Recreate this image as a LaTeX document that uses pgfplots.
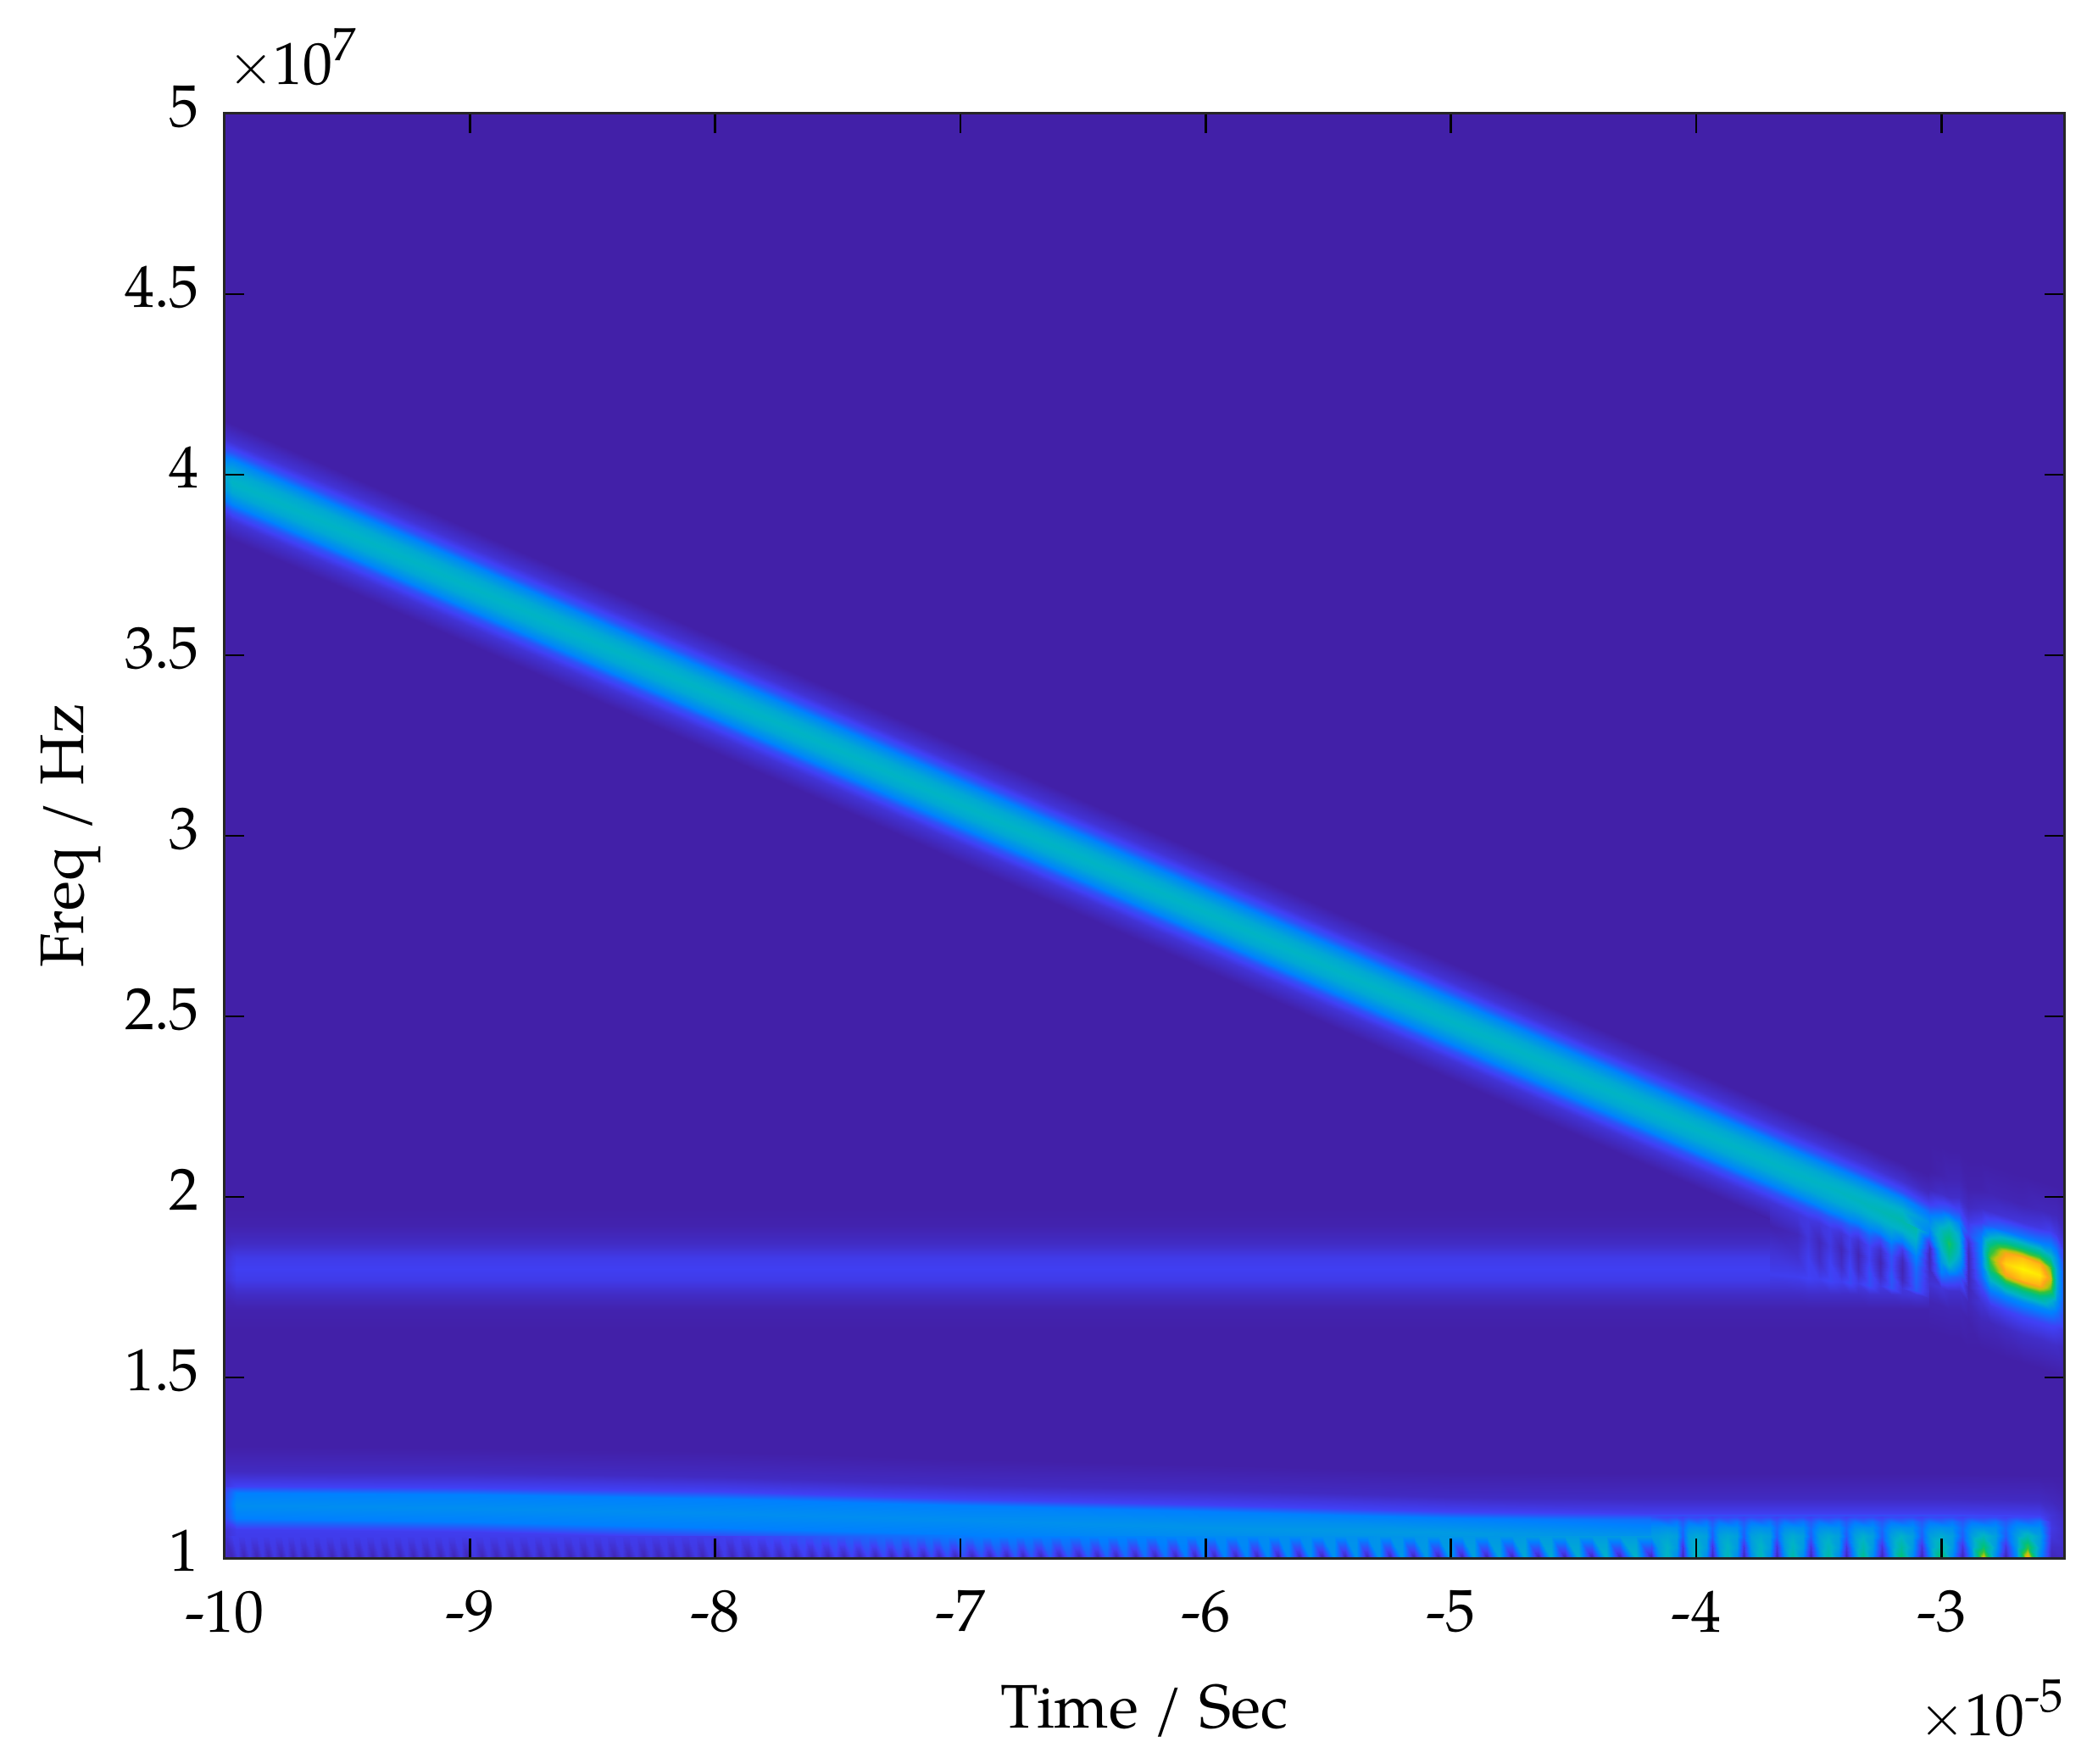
\documentclass[border=0pt]{standalone}
\usepackage{pgfplots}
\usepackage{fontspec}
\setmainfont{TeX Gyre Pagella}
\pgfplotsset{compat=1.18}
\definecolor{bgv}{RGB}{66,32,168}
\newcommand{\lab}{\fontsize{21}{24}\selectfont}
\newcommand{\labb}{\fontsize{21.8}{25}\selectfont}
\newcommand{\expo}[1]{\raisebox{8.5pt}{\fontsize{16.5}{18}\selectfont #1}}
\pgfplotsset{
 heat/.style={surf,shader=interp,point meta=explicit,mesh/ordering=y varies,forget plot},
 colormap={spec}{rgb255(0cm)=(66,32,168); rgb255(12cm)=(64,64,245); rgb255(25cm)=(0,128,255); rgb255(40cm)=(0,178,200); rgb255(55cm)=(0,192,128); rgb255(66cm)=(50,195,60); rgb255(76cm)=(190,195,10); rgb255(85cm)=(255,165,25); rgb255(100cm)=(255,242,0)}
}
\begin{document}
\begin{tikzpicture}
\path[use as bounding box] (-79.5pt,-72.9pt) rectangle (663pt,551.4pt);
\begin{axis}[
 scale only axis,width=651pt,height=511.2pt,at={(0,0)},
 xmin=-10,xmax=-2.5,ymin=1,ymax=5,
 xtick={-10,-9,-8,-7,-6,-5,-4,-3},
 xticklabels={-10,-9,-8,-7,-6,-5,-4,-3},
 ytick={1,1.5,2,2.5,3,3.5,4,4.5,5},
 yticklabels={1,1.5,2,2.5,3,3.5,4,4.5,5},
 tick align=inside,major tick length=7pt,
 tick style={black,line width=0.8pt},
 axis line style={line width=0.9pt,black!85},
 axis on top,
 axis background/.style={fill=bgv},
 point meta min=0,point meta max=1,
 tick label style={font=\lab},
 xticklabel style={yshift=-8pt},
 yticklabel style={xshift=-5.5pt,yshift=2.5pt},
 xlabel={Time / Sec},ylabel={Freq / Hz},
 label style={font=\labb},
 xlabel style={at={(axis description cs:0.5,0)},anchor=center,yshift=-54pt},
 ylabel style={at={(axis description cs:0,0.5)},anchor=center,yshift=54.5pt},
]
% line at 1.8
\addplot[heat,mesh/rows=9] table[meta=c,row sep=\\]{t f c\\
-10 1.63 0\\ -10 1.69 .01\\ -10 1.73 .03\\ -10 1.77 .06\\ -10 1.80 .07\\ -10 1.83 .06\\ -10 1.87 .03\\ -10 1.92 .01\\ -10 1.97 0\\
-9.95 1.63 0\\ -9.95 1.69 .01\\ -9.95 1.73 .045\\ -9.95 1.77 .10\\ -9.95 1.80 .115\\ -9.95 1.83 .10\\ -9.95 1.87 .045\\ -9.95 1.92 .01\\ -9.95 1.97 0\\
-6 1.63 0\\ -6 1.69 .01\\ -6 1.73 .045\\ -6 1.77 .10\\ -6 1.80 .115\\ -6 1.83 .10\\ -6 1.87 .045\\ -6 1.92 .01\\ -6 1.97 0\\
-3.7 1.63 0\\ -3.7 1.69 .01\\ -3.7 1.73 .045\\ -3.7 1.77 .10\\ -3.7 1.80 .115\\ -3.7 1.83 .10\\ -3.7 1.87 .045\\ -3.7 1.92 .01\\ -3.7 1.97 0\\
};
% diagonal
\addplot[heat,mesh/rows=11] table[meta=c,row sep=\\]{t f c\\
-10 3.83 0\\ -10 3.88 .06\\ -10 3.91 .14\\ -10 3.93 .24\\ -10 3.96 .33\\ -10 3.99 .36\\ -10 4.02 .33\\ -10 4.05 .24\\ -10 4.07 .14\\ -10 4.10 .06\\ -10 4.15 0\\
-9.97 3.82 0\\ -9.97 3.87 .07\\ -9.97 3.90 .16\\ -9.97 3.92 .27\\ -9.97 3.95 .37\\ -9.97 3.98 .41\\ -9.97 4.01 .37\\ -9.97 4.04 .27\\ -9.97 4.06 .16\\ -9.97 4.09 .07\\ -9.97 4.14 0\\
-9.5 3.68 0\\ -9.5 3.73 .07\\ -9.5 3.76 .16\\ -9.5 3.78 .27\\ -9.5 3.81 .37\\ -9.5 3.84 .41\\ -9.5 3.87 .37\\ -9.5 3.90 .27\\ -9.5 3.92 .16\\ -9.5 3.95 .07\\ -9.5 4.00 0\\
-9 3.53 0\\ -9 3.58 .07\\ -9 3.61 .16\\ -9 3.63 .27\\ -9 3.66 .37\\ -9 3.69 .41\\ -9 3.72 .37\\ -9 3.75 .27\\ -9 3.77 .16\\ -9 3.80 .07\\ -9 3.85 0\\
-8 3.229 0\\ -8 3.279 .07\\ -8 3.309 .16\\ -8 3.329 .27\\ -8 3.359 .37\\ -8 3.389 .41\\ -8 3.419 .37\\ -8 3.449 .27\\ -8 3.469 .16\\ -8 3.499 .07\\ -8 3.549 0\\
-7 2.928 0\\ -7 2.978 .07\\ -7 3.008 .16\\ -7 3.028 .27\\ -7 3.058 .37\\ -7 3.088 .41\\ -7 3.118 .37\\ -7 3.148 .27\\ -7 3.168 .16\\ -7 3.198 .07\\ -7 3.248 0\\
-6 2.628 0\\ -6 2.678 .07\\ -6 2.708 .16\\ -6 2.728 .27\\ -6 2.758 .37\\ -6 2.788 .41\\ -6 2.818 .37\\ -6 2.848 .27\\ -6 2.868 .16\\ -6 2.898 .07\\ -6 2.948 0\\
-5 2.327 0\\ -5 2.377 .07\\ -5 2.407 .16\\ -5 2.427 .27\\ -5 2.457 .37\\ -5 2.487 .41\\ -5 2.517 .37\\ -5 2.547 .27\\ -5 2.567 .16\\ -5 2.597 .07\\ -5 2.647 0\\
-4.5 2.177 0\\ -4.5 2.227 .07\\ -4.5 2.257 .16\\ -4.5 2.277 .27\\ -4.5 2.307 .37\\ -4.5 2.337 .41\\ -4.5 2.367 .37\\ -4.5 2.397 .27\\ -4.5 2.417 .16\\ -4.5 2.447 .07\\ -4.5 2.497 0\\
-4 2.027 0\\ -4 2.077 .07\\ -4 2.107 .16\\ -4 2.127 .27\\ -4 2.157 .37\\ -4 2.187 .41\\ -4 2.217 .37\\ -4 2.247 .27\\ -4 2.267 .16\\ -4 2.297 .07\\ -4 2.347 0\\
-3.7 1.937 0\\ -3.7 1.987 .07\\ -3.7 2.017 .16\\ -3.7 2.037 .27\\ -3.7 2.067 .37\\ -3.7 2.097 .41\\ -3.7 2.127 .37\\ -3.7 2.157 .27\\ -3.7 2.177 .16\\ -3.7 2.207 .07\\ -3.7 2.257 0\\
};
% ripples below the diagonal
\addplot[heat,mesh/rows=11] table[meta=c,row sep=\\]{t f c\\
-3.70 1.63 0\\ -3.70 1.69 .01\\ -3.70 1.73 .045\\ -3.70 1.787 .11\\ -3.70 1.854 .065\\ -3.70 1.92 .01\\ -3.70 1.987 .07\\ -3.70 2.017 .16\\ -3.70 2.037 .27\\ -3.70 2.067 .37\\ -3.70 2.097 .41\\
-3.59 1.63 0\\ -3.59 1.69 .01\\ -3.59 1.73 .045\\ -3.59 1.779 .11\\ -3.59 1.837 .06\\ -3.59 1.896 .03\\ -3.59 1.954 .08\\ -3.59 1.984 .16\\ -3.59 2.004 .27\\ -3.59 2.034 .37\\ -3.59 2.064 .41\\
-3.545 1.63 0\\ -3.545 1.69 .01\\ -3.545 1.73 .05\\ -3.545 1.775 .12\\ -3.545 1.83 .11\\ -3.545 1.885 .08\\ -3.545 1.94 .09\\ -3.545 1.97 .16\\ -3.545 1.99 .27\\ -3.545 2.02 .37\\ -3.545 2.05 .41\\
-3.50 1.63 0\\ -3.50 1.69 .01\\ -3.50 1.73 .05\\ -3.50 1.772 .11\\ -3.50 1.824 .05\\ -3.50 1.875 .03\\ -3.50 1.927 .08\\ -3.50 1.957 .16\\ -3.50 1.977 .27\\ -3.50 2.007 .37\\ -3.50 2.037 .41\\
-3.455 1.63 0\\ -3.455 1.69 .01\\ -3.455 1.73 .05\\ -3.455 1.768 .13\\ -3.455 1.817 .12\\ -3.455 1.865 .09\\ -3.455 1.913 .10\\ -3.455 1.943 .17\\ -3.455 1.963 .27\\ -3.455 1.993 .37\\ -3.455 2.023 .41\\
-3.41 1.63 0\\ -3.41 1.69 .01\\ -3.41 1.73 .05\\ -3.41 1.765 .11\\ -3.41 1.81 .05\\ -3.41 1.855 .025\\ -3.41 1.90 .07\\ -3.41 1.93 .16\\ -3.41 1.95 .27\\ -3.41 1.98 .37\\ -3.41 2.01 .41\\
-3.375 1.63 0\\ -3.375 1.69 .01\\ -3.375 1.73 .05\\ -3.375 1.7625 .14\\ -3.375 1.805 .13\\ -3.375 1.8475 .10\\ -3.375 1.89 .11\\ -3.375 1.92 .18\\ -3.375 1.94 .27\\ -3.375 1.97 .37\\ -3.375 2.0 .42\\
-3.34 1.63 0\\ -3.34 1.69 .01\\ -3.34 1.73 .05\\ -3.34 1.76 .10\\ -3.34 1.80 .04\\ -3.34 1.84 .02\\ -3.34 1.879 .06\\ -3.34 1.909 .15\\ -3.34 1.929 .26\\ -3.34 1.959 .37\\ -3.34 1.989 .42\\
-3.295 1.63 0\\ -3.295 1.69 .01\\ -3.295 1.73 .06\\ -3.295 1.756 .15\\ -3.295 1.792 .15\\ -3.295 1.829 .12\\ -3.295 1.865 .13\\ -3.295 1.895 .20\\ -3.295 1.915 .28\\ -3.295 1.945 .38\\ -3.295 1.975 .43\\
-3.25 1.63 0\\ -3.25 1.69 .01\\ -3.25 1.73 .06\\ -3.25 1.753 .09\\ -3.25 1.786 .04\\ -3.25 1.819 .02\\ -3.25 1.852 .05\\ -3.25 1.882 .14\\ -3.25 1.902 .26\\ -3.25 1.932 .38\\ -3.25 1.962 .44\\
-3.205 1.63 0\\ -3.205 1.69 .01\\ -3.205 1.73 .06\\ -3.205 1.7495 .16\\ -3.205 1.779 .17\\ -3.205 1.8085 .15\\ -3.205 1.838 .16\\ -3.205 1.868 .23\\ -3.205 1.888 .30\\ -3.205 1.918 .39\\ -3.205 1.948 .45\\
-3.16 1.63 0\\ -3.16 1.69 .01\\ -3.16 1.73 .07\\ -3.16 1.746 .08\\ -3.16 1.772 .03\\ -3.16 1.799 .02\\ -3.16 1.825 .03\\ -3.16 1.855 .10\\ -3.16 1.875 .24\\ -3.16 1.905 .39\\ -3.16 1.935 .46\\
-3.105 1.63 0\\ -3.105 1.69 .01\\ -3.105 1.73 .08\\ -3.105 1.742 .17\\ -3.105 1.764 .19\\ -3.105 1.786 .20\\ -3.105 1.808 .22\\ -3.105 1.838 .27\\ -3.105 1.858 .33\\ -3.105 1.888 .41\\ -3.105 1.918 .47\\
-3.05 1.63 0\\ -3.05 1.69 .01\\ -3.05 1.72 .05\\ -3.05 1.7375 .07\\ -3.05 1.755 .07\\ -3.05 1.7725 .06\\ -3.05 1.79 .045\\ -3.05 1.82 .03\\ -3.05 1.84 .025\\ -3.05 1.87 .08\\ -3.05 1.90 .27\\
};
% upper half of the diagonal near its end
\addplot[heat,mesh/rows=6] table[meta=c,row sep=\\]{t f c\\
-3.7 2.097 .41\\ -3.7 2.127 .37\\ -3.7 2.157 .27\\ -3.7 2.177 .16\\ -3.7 2.207 .07\\ -3.7 2.257 0\\
-3.5 2.037 .41\\ -3.5 2.067 .37\\ -3.5 2.097 .27\\ -3.5 2.117 .16\\ -3.5 2.147 .07\\ -3.5 2.197 0\\
-3.3 1.977 .43\\ -3.3 2.007 .38\\ -3.3 2.037 .27\\ -3.3 2.057 .16\\ -3.3 2.087 .07\\ -3.3 2.137 0\\
-3.16 1.935 .46\\ -3.16 1.965 .39\\ -3.16 1.995 .27\\ -3.16 2.015 .15\\ -3.16 2.045 .06\\ -3.16 2.095 0\\
-3.05 1.90 .27\\ -3.05 1.93 .30\\ -3.05 1.96 .21\\ -3.05 1.98 .12\\ -3.05 2.01 .04\\ -3.05 2.06 0\\
};
% end of the diagonal and the bright spot
\addplot[heat,mesh/rows=13] table[meta=c,row sep=\\]{t f c\\
-3.05 1.63 0\\ -3.05 1.71 .02\\ -3.05 1.76 .07\\ -3.05 1.80 .04\\ -3.05 1.83 .03\\ -3.05 1.86 .04\\ -3.05 1.89 .21\\ -3.05 1.92 .30\\ -3.05 1.95 .24\\ -3.05 1.98 .12\\ -3.05 2.02 .03\\ -3.05 2.07 0\\ -3.05 2.15 0\\
-3.00 1.62 0\\ -3.00 1.70 .02\\ -3.00 1.75 .08\\ -3.00 1.79 .25\\ -3.00 1.82 .32\\ -3.00 1.85 .38\\ -3.00 1.88 .45\\ -3.00 1.91 .42\\ -3.00 1.94 .30\\ -3.00 1.97 .16\\ -3.00 2.01 .05\\ -3.00 2.06 .01\\ -3.00 2.14 0\\
-2.97 1.61 0\\ -2.97 1.69 .02\\ -2.97 1.74 .06\\ -2.97 1.78 .20\\ -2.97 1.81 .40\\ -2.97 1.84 .52\\ -2.97 1.87 .60\\ -2.97 1.90 .50\\ -2.97 1.93 .38\\ -2.97 1.96 .18\\ -2.97 2.00 .05\\ -2.97 2.05 .02\\ -2.97 2.13 0\\
-2.93 1.61 0\\ -2.93 1.69 .02\\ -2.93 1.74 .06\\ -2.93 1.78 .18\\ -2.93 1.81 .30\\ -2.93 1.84 .38\\ -2.93 1.87 .40\\ -2.93 1.90 .36\\ -2.93 1.93 .26\\ -2.93 1.96 .14\\ -2.93 2.00 .05\\ -2.93 2.05 .02\\ -2.93 2.13 0\\
-2.89 1.58 0\\ -2.89 1.66 .01\\ -2.89 1.71 .03\\ -2.89 1.75 .03\\ -2.89 1.78 .03\\ -2.89 1.81 .03\\ -2.89 1.84 .03\\ -2.89 1.87 .06\\ -2.89 1.90 .14\\ -2.89 1.93 .10\\ -2.89 1.97 .04\\ -2.89 2.02 .01\\ -2.89 2.10 0\\
-2.84 1.58 0\\ -2.84 1.66 .03\\ -2.84 1.71 .07\\ -2.84 1.75 .13\\ -2.84 1.78 .20\\ -2.84 1.81 .24\\ -2.84 1.84 .26\\ -2.84 1.87 .26\\ -2.84 1.90 .22\\ -2.84 1.93 .12\\ -2.84 1.97 .05\\ -2.84 2.02 .01\\ -2.84 2.10 0\\
-2.80 1.57 0\\ -2.80 1.65 .03\\ -2.80 1.70 .10\\ -2.80 1.74 .24\\ -2.80 1.77 .40\\ -2.80 1.80 .60\\ -2.80 1.83 .70\\ -2.80 1.86 .60\\ -2.80 1.89 .38\\ -2.80 1.92 .18\\ -2.80 1.96 .06\\ -2.80 2.01 .02\\ -2.80 2.09 0\\
-2.74 1.555 0\\ -2.74 1.635 .04\\ -2.74 1.685 .12\\ -2.74 1.725 .27\\ -2.74 1.755 .52\\ -2.74 1.785 .84\\ -2.74 1.815 .94\\ -2.74 1.845 .84\\ -2.74 1.875 .50\\ -2.74 1.905 .22\\ -2.74 1.945 .07\\ -2.74 1.995 .02\\ -2.74 2.075 0\\
-2.67 1.54 0\\ -2.67 1.62 .05\\ -2.67 1.67 .13\\ -2.67 1.71 .28\\ -2.67 1.74 .54\\ -2.67 1.77 .90\\ -2.67 1.80 1\\ -2.67 1.83 .90\\ -2.67 1.86 .54\\ -2.67 1.89 .24\\ -2.67 1.93 .08\\ -2.67 1.98 .02\\ -2.67 2.06 0\\
-2.60 1.525 0\\ -2.60 1.605 .05\\ -2.60 1.655 .13\\ -2.60 1.695 .28\\ -2.60 1.725 .54\\ -2.60 1.755 .88\\ -2.60 1.785 .98\\ -2.60 1.815 .88\\ -2.60 1.845 .52\\ -2.60 1.875 .24\\ -2.60 1.915 .09\\ -2.60 1.965 .03\\ -2.60 2.045 0\\
-2.555 1.515 0\\ -2.555 1.595 .05\\ -2.555 1.645 .13\\ -2.555 1.685 .27\\ -2.555 1.715 .42\\ -2.555 1.745 .68\\ -2.555 1.775 .80\\ -2.555 1.805 .68\\ -2.555 1.835 .42\\ -2.555 1.865 .26\\ -2.555 1.905 .11\\ -2.555 1.955 .03\\ -2.555 2.035 0\\
-2.53 1.51 0\\ -2.53 1.59 .05\\ -2.53 1.64 .12\\ -2.53 1.68 .23\\ -2.53 1.71 .30\\ -2.53 1.74 .36\\ -2.53 1.77 .38\\ -2.53 1.80 .36\\ -2.53 1.83 .30\\ -2.53 1.86 .21\\ -2.53 1.90 .09\\ -2.53 1.95 .03\\ -2.53 2.03 0\\
-2.50 1.50 0\\ -2.50 1.58 .03\\ -2.50 1.63 .08\\ -2.50 1.67 .12\\ -2.50 1.70 .14\\ -2.50 1.73 .15\\ -2.50 1.76 .15\\ -2.50 1.79 .15\\ -2.50 1.82 .13\\ -2.50 1.85 .10\\ -2.50 1.89 .05\\ -2.50 1.94 .02\\ -2.50 2.02 0\\
};
% low band
\addplot[heat,mesh/rows=8] table[meta=c,row sep=\\]{t f c\\
-10 1.0 .05\\ -10 1.08 .07\\ -10 1.11 .14\\ -10 1.145 .16\\ -10 1.18 .14\\ -10 1.20 .09\\ -10 1.24 .04\\ -10 1.31 0\\
-9.95 1.0 .08\\ -9.95 1.08 .11\\ -9.95 1.11 .25\\ -9.95 1.145 .29\\ -9.95 1.18 .25\\ -9.95 1.20 .12\\ -9.95 1.24 .04\\ -9.95 1.31 0\\
-9 1.0 .08\\ -9 1.072 .11\\ -9 1.102 .25\\ -9 1.139 .29\\ -9 1.176 .25\\ -9 1.196 .12\\ -9 1.236 .04\\ -9 1.306 0\\
-8 1.0 .08\\ -8 1.055 .11\\ -8 1.085 .25\\ -8 1.125 .29\\ -8 1.165 .25\\ -8 1.185 .12\\ -8 1.225 .04\\ -8 1.295 0\\
-7 1.0 .08\\ -7 1.035 .11\\ -7 1.065 .25\\ -7 1.105 .29\\ -7 1.145 .25\\ -7 1.165 .12\\ -7 1.205 .04\\ -7 1.275 0\\
-6 1.0 .15\\ -6 1.015 .20\\ -6 1.041 .27\\ -6 1.085 .31\\ -6 1.129 .25\\ -6 1.149 .12\\ -6 1.189 .04\\ -6 1.259 0\\
-5 1.0 .20\\ -5 1.01 .25\\ -5 1.03 .30\\ -5 1.07 .33\\ -5 1.11 .25\\ -5 1.13 .12\\ -5 1.17 .04\\ -5 1.24 0\\
-4.2 1.0 .20\\ -4.2 1.01 .25\\ -4.2 1.03 .30\\ -4.2 1.065 .30\\ -4.2 1.105 .22\\ -4.2 1.125 .11\\ -4.2 1.165 .04\\ -4.2 1.235 0\\
-3 1.0 .20\\ -3 1.01 .25\\ -3 1.03 .30\\ -3 1.065 .30\\ -3 1.105 .22\\ -3 1.125 .11\\ -3 1.165 .04\\ -3 1.235 0\\
-2.6 1.0 .20\\ -2.6 1.01 .25\\ -2.6 1.03 .30\\ -2.6 1.065 .30\\ -2.6 1.10 .22\\ -2.6 1.12 .11\\ -2.6 1.16 .04\\ -2.6 1.23 0\\
-2.55 1.0 .06\\ -2.55 1.01 .06\\ -2.55 1.03 .07\\ -2.55 1.065 .08\\ -2.55 1.10 .08\\ -2.55 1.12 .07\\ -2.55 1.16 .03\\ -2.55 1.23 0\\
-2.5 1.0 .04\\ -2.5 1.01 .04\\ -2.5 1.03 .05\\ -2.5 1.065 .05\\ -2.5 1.10 .05\\ -2.5 1.12 .04\\ -2.5 1.16 .02\\ -2.5 1.23 0\\
};
% fine comb at the bottom edge
\addplot[heat,mesh/rows=2] table[meta=c,row sep=\\]{t f c\\
-10 1 .04\\ -10 1.06 .06\\
-9.97 1 .02\\ -9.97 1.06 .105\\ -9.945 1 .09\\ -9.945 1.06 .105\\
-9.92 1 .02\\ -9.92 1.06 .105\\ -9.895 1 .09\\ -9.895 1.06 .105\\
-9.87 1 .02\\ -9.87 1.06 .105\\ -9.845 1 .09\\ -9.845 1.06 .105\\
-9.82 1 .02\\ -9.82 1.06 .105\\ -9.795 1 .09\\ -9.795 1.06 .105\\
-9.77 1 .02\\ -9.77 1.06 .105\\ -9.745 1 .09\\ -9.745 1.06 .105\\
-9.72 1 .02\\ -9.72 1.06 .105\\ -9.695 1 .09\\ -9.695 1.06 .105\\
-9.67 1 .02\\ -9.67 1.06 .105\\ -9.642 1 .09\\ -9.642 1.06 .105\\
-9.615 1 .02\\ -9.615 1.06 .105\\ -9.587 1 .09\\ -9.587 1.06 .105\\
-9.56 1 .02\\ -9.56 1.06 .105\\ -9.532 1 .09\\ -9.532 1.06 .105\\
-9.505 1 .02\\ -9.505 1.06 .105\\ -9.477 1 .09\\ -9.477 1.06 .105\\
-9.45 1 .02\\ -9.45 1.06 .105\\ -9.422 1 .09\\ -9.422 1.06 .105\\
-9.395 1 .02\\ -9.395 1.06 .105\\ -9.367 1 .09\\ -9.367 1.06 .105\\
-9.34 1 .02\\ -9.34 1.06 .105\\ -9.312 1 .09\\ -9.312 1.06 .105\\
-9.285 1 .02\\ -9.285 1.06 .105\\ -9.257 1 .09\\ -9.257 1.06 .105\\
-9.23 1 .02\\ -9.23 1.06 .105\\ -9.202 1 .09\\ -9.202 1.06 .105\\
-9.175 1 .02\\ -9.175 1.06 .105\\ -9.147 1 .09\\ -9.147 1.06 .105\\
-9.12 1 .02\\ -9.12 1.06 .105\\ -9.092 1 .09\\ -9.092 1.06 .105\\
-9.065 1 .02\\ -9.065 1.06 .105\\ -9.037 1 .09\\ -9.037 1.06 .105\\
-9.01 1 .02\\ -9.01 1.06 .105\\ -8.98 1 .09\\ -8.98 1.06 .105\\
-8.95 1 .02\\ -8.95 1.06 .105\\ -8.92 1 .09\\ -8.92 1.06 .105\\
-8.89 1 .02\\ -8.89 1.06 .105\\ -8.86 1 .09\\ -8.86 1.06 .105\\
-8.83 1 .02\\ -8.83 1.06 .105\\ -8.80 1 .09\\ -8.80 1.06 .105\\
-8.77 1 .02\\ -8.77 1.06 .105\\ -8.74 1 .09\\ -8.74 1.06 .105\\
-8.71 1 .02\\ -8.71 1.06 .105\\ -8.68 1 .09\\ -8.68 1.06 .105\\
-8.65 1 .02\\ -8.65 1.06 .105\\ -8.62 1 .09\\ -8.62 1.06 .105\\
-8.59 1 .02\\ -8.59 1.06 .105\\ -8.56 1 .09\\ -8.56 1.06 .105\\
-8.53 1 .02\\ -8.53 1.06 .105\\ -8.50 1 .09\\ -8.50 1.06 .105\\
-8.47 1 .02\\ -8.47 1.06 .105\\ -8.44 1 .09\\ -8.44 1.06 .105\\
-8.41 1 .02\\ -8.41 1.06 .105\\ -8.38 1 .09\\ -8.38 1.06 .105\\
-8.35 1 .02\\ -8.35 1.06 .105\\ -8.32 1 .09\\ -8.32 1.06 .105\\
-8.29 1 .02\\ -8.29 1.06 .105\\ -8.26 1 .09\\ -8.26 1.06 .105\\
-8.23 1 .02\\ -8.23 1.06 .105\\ -8.20 1 .09\\ -8.20 1.06 .105\\
-8.17 1 .02\\ -8.17 1.06 .105\\ -8.14 1 .09\\ -8.14 1.06 .105\\
-8.11 1 .02\\ -8.11 1.06 .105\\ -8.08 1 .09\\ -8.08 1.06 .105\\
-8.05 1 .02\\ -8.05 1.06 .105\\ -8.02 1 .10\\ -8.02 1.06 .105\\
-7.99 1 .02\\ -7.99 1.06 .105\\ -7.96 1 .10\\ -7.96 1.06 .11\\
-7.93 1 .02\\ -7.93 1.06 .11\\ -7.897 1 .10\\ -7.897 1.06 .12\\
-7.865 1 .02\\ -7.865 1.06 .12\\ -7.832 1 .10\\ -7.832 1.06 .13\\
-7.80 1 .02\\ -7.80 1.06 .13\\ -7.767 1 .10\\ -7.767 1.06 .14\\
-7.735 1 .02\\ -7.735 1.06 .14\\ -7.702 1 .11\\ -7.702 1.06 .15\\
-7.67 1 .02\\ -7.67 1.06 .15\\ -7.637 1 .11\\ -7.637 1.06 .16\\
-7.605 1 .02\\ -7.605 1.06 .16\\ -7.572 1 .11\\ -7.572 1.06 .17\\
-7.54 1 .02\\ -7.54 1.06 .17\\ -7.507 1 .12\\ -7.507 1.06 .18\\
-7.475 1 .02\\ -7.475 1.06 .18\\ -7.442 1 .12\\ -7.442 1.06 .19\\
-7.41 1 .02\\ -7.41 1.06 .19\\ -7.377 1 .12\\ -7.377 1.06 .20\\
-7.345 1 .02\\ -7.345 1.06 .20\\ -7.312 1 .13\\ -7.312 1.06 .21\\
-7.28 1 .02\\ -7.28 1.06 .21\\ -7.247 1 .13\\ -7.247 1.06 .21\\
-7.215 1 .02\\ -7.215 1.06 .21\\ -7.182 1 .13\\ -7.182 1.06 .22\\
-7.15 1 .02\\ -7.15 1.06 .22\\ -7.117 1 .14\\ -7.117 1.06 .23\\
-7.085 1 .02\\ -7.085 1.06 .23\\ -7.052 1 .14\\ -7.052 1.06 .24\\
-7.02 1 .02\\ -7.02 1.06 .24\\ -6.985 1 .14\\ -6.985 1.06 .24\\
-6.95 1 .02\\ -6.95 1.06 .24\\ -6.915 1 .15\\ -6.915 1.06 .25\\
-6.88 1 .02\\ -6.88 1.06 .25\\ -6.845 1 .15\\ -6.845 1.06 .25\\
-6.81 1 .02\\ -6.81 1.06 .25\\ -6.777 1 .16\\ -6.777 1.06 .25\\
-6.744 1 .02\\ -6.744 1.06 .25\\ -6.708 1 .16\\ -6.708 1.06 .25\\
-6.672 1 .02\\ -6.672 1.06 .25\\ -6.634 1 .17\\ -6.634 1.06 .25\\
-6.596 1 .02\\ -6.596 1.06 .25\\ -6.556 1 .17\\ -6.556 1.06 .25\\
-6.516 1 .02\\ -6.516 1.06 .25\\ -6.478 1 .18\\ -6.478 1.06 .26\\
-6.44 1 .02\\ -6.44 1.06 .26\\ -6.402 1 .19\\ -6.402 1.06 .26\\
-6.364 1 .02\\ -6.364 1.06 .26\\ -6.325 1 .20\\ -6.325 1.06 .26\\
-6.285 1 .02\\ -6.285 1.06 .26\\ -6.245 1 .21\\ -6.245 1.06 .26\\
-6.205 1 .02\\ -6.205 1.06 .26\\ -6.164 1 .22\\ -6.164 1.06 .27\\
-6.122 1 .02\\ -6.122 1.06 .27\\ -6.082 1 .24\\ -6.082 1.06 .27\\
-6.043 1 .02\\ -6.043 1.06 .27\\ -6.003 1 .25\\ -6.003 1.06 .28\\
-5.963 1 .02\\ -5.963 1.06 .28\\ -5.92 1 .26\\ -5.92 1.06 .28\\
-5.877 1 .02\\ -5.877 1.06 .28\\ -5.833 1 .27\\ -5.833 1.06 .28\\
-5.79 1 .02\\ -5.79 1.06 .28\\ -5.747 1 .28\\ -5.747 1.06 .29\\
-5.704 1 .02\\ -5.704 1.06 .29\\ -5.661 1 .29\\ -5.661 1.06 .29\\
-5.618 1 .02\\ -5.618 1.06 .29\\ -5.571 1 .30\\ -5.571 1.06 .30\\
-5.524 1 .02\\ -5.524 1.06 .30\\ -5.477 1 .30\\ -5.477 1.06 .30\\
-5.431 1 .02\\ -5.431 1.06 .30\\ -5.386 1 .31\\ -5.386 1.06 .30\\
-5.341 1 .02\\ -5.341 1.06 .30\\ -5.294 1 .31\\ -5.294 1.06 .31\\
-5.248 1 .02\\ -5.248 1.06 .31\\ -5.20 1 .32\\ -5.20 1.06 .31\\
-5.151 1 .02\\ -5.151 1.06 .31\\ -5.10 1 .33\\ -5.10 1.06 .32\\
-5.051 1 .02\\ -5.051 1.06 .32\\ -5.002 1 .34\\ -5.002 1.06 .32\\
-4.954 1 .02\\ -4.954 1.06 .32\\ -4.904 1 .35\\ -4.904 1.06 .32\\
-4.854 1 .02\\ -4.854 1.06 .32\\ -4.802 1 .36\\ -4.802 1.06 .32\\
-4.75 1 .02\\ -4.75 1.06 .32\\ -4.697 1 .37\\ -4.697 1.06 .33\\
-4.643 1 .02\\ -4.643 1.06 .33\\ -4.59 1 .38\\ -4.59 1.06 .33\\
-4.536 1 .02\\ -4.536 1.06 .33\\ -4.48 1 .39\\ -4.48 1.06 .33\\
-4.425 1 .02\\ -4.425 1.06 .33\\ -4.368 1 .40\\ -4.368 1.06 .33\\
-4.311 1 .02\\ -4.311 1.06 .33\\ -4.247 1 .41\\ -4.247 1.06 .33\\
-4.183 1 .02\\ -4.183 1.06 .33\\
};
% lobes at the bottom edge
\addplot[heat,mesh/rows=6] table[meta=c,row sep=\\]{t f c\\
-4.183 1 .02\\ -4.183 1.03 .15\\ -4.183 1.06 .33\\ -4.183 1.085 .29\\ -4.183 1.10 .23\\ -4.183 1.115 .15\\
-4.155 1 .28\\ -4.155 1.03 .33\\ -4.155 1.06 .34\\ -4.155 1.085 .29\\ -4.155 1.10 .23\\ -4.155 1.115 .13\\
-4.117 1 .42\\ -4.117 1.03 .40\\ -4.117 1.06 .36\\ -4.117 1.085 .30\\ -4.117 1.10 .20\\ -4.117 1.115 .12\\
-4.08 1 .28\\ -4.08 1.03 .33\\ -4.08 1.06 .34\\ -4.08 1.085 .29\\ -4.08 1.10 .23\\ -4.08 1.115 .13\\
-4.055 1 .02\\ -4.055 1.03 .08\\ -4.055 1.06 .18\\ -4.055 1.085 .20\\ -4.055 1.10 .17\\ -4.055 1.115 .11\\
-4.03 1 .28\\ -4.03 1.03 .33\\ -4.03 1.06 .34\\ -4.03 1.085 .29\\ -4.03 1.10 .23\\ -4.03 1.115 .13\\
-3.997 1 .44\\ -3.997 1.03 .41\\ -3.997 1.06 .37\\ -3.997 1.085 .30\\ -3.997 1.10 .20\\ -3.997 1.115 .12\\
-3.96 1 .28\\ -3.96 1.03 .33\\ -3.96 1.06 .34\\ -3.96 1.085 .29\\ -3.96 1.10 .23\\ -3.96 1.115 .13\\
-3.935 1 .02\\ -3.935 1.03 .08\\ -3.935 1.06 .18\\ -3.935 1.085 .20\\ -3.935 1.10 .17\\ -3.935 1.115 .11\\
-3.905 1 .28\\ -3.905 1.03 .33\\ -3.905 1.06 .34\\ -3.905 1.085 .29\\ -3.905 1.10 .23\\ -3.905 1.115 .13\\
-3.872 1 .44\\ -3.872 1.03 .41\\ -3.872 1.06 .37\\ -3.872 1.085 .30\\ -3.872 1.10 .20\\ -3.872 1.115 .12\\
-3.835 1 .28\\ -3.835 1.03 .33\\ -3.835 1.06 .34\\ -3.835 1.085 .29\\ -3.835 1.10 .23\\ -3.835 1.115 .13\\
-3.805 1 .02\\ -3.805 1.03 .08\\ -3.805 1.06 .18\\ -3.805 1.085 .20\\ -3.805 1.10 .17\\ -3.805 1.115 .11\\
-3.775 1 .28\\ -3.775 1.03 .33\\ -3.775 1.06 .34\\ -3.775 1.085 .29\\ -3.775 1.10 .23\\ -3.775 1.115 .13\\
-3.737 1 .44\\ -3.737 1.03 .41\\ -3.737 1.06 .37\\ -3.737 1.085 .30\\ -3.737 1.10 .20\\ -3.737 1.115 .12\\
-3.70 1 .28\\ -3.70 1.03 .33\\ -3.70 1.06 .34\\ -3.70 1.085 .29\\ -3.70 1.10 .23\\ -3.70 1.115 .13\\
-3.672 1 .02\\ -3.672 1.03 .08\\ -3.672 1.06 .18\\ -3.672 1.085 .20\\ -3.672 1.10 .17\\ -3.672 1.115 .11\\
-3.64 1 .28\\ -3.64 1.03 .33\\ -3.64 1.06 .34\\ -3.64 1.085 .29\\ -3.64 1.10 .23\\ -3.64 1.115 .13\\
-3.606 1 .47\\ -3.606 1.03 .42\\ -3.606 1.06 .38\\ -3.606 1.085 .30\\ -3.606 1.10 .20\\ -3.606 1.115 .12\\
-3.565 1 .28\\ -3.565 1.03 .33\\ -3.565 1.06 .34\\ -3.565 1.085 .29\\ -3.565 1.10 .23\\ -3.565 1.115 .13\\
-3.533 1 .02\\ -3.533 1.03 .08\\ -3.533 1.06 .18\\ -3.533 1.085 .20\\ -3.533 1.10 .17\\ -3.533 1.115 .11\\
-3.50 1 .28\\ -3.50 1.03 .33\\ -3.50 1.06 .34\\ -3.50 1.085 .29\\ -3.50 1.10 .23\\ -3.50 1.115 .13\\
-3.461 1 .48\\ -3.461 1.03 .43\\ -3.461 1.06 .38\\ -3.461 1.085 .30\\ -3.461 1.10 .20\\ -3.461 1.115 .12\\
-3.42 1 .28\\ -3.42 1.03 .33\\ -3.42 1.06 .34\\ -3.42 1.085 .29\\ -3.42 1.10 .23\\ -3.42 1.115 .13\\
-3.388 1 .02\\ -3.388 1.03 .08\\ -3.388 1.06 .18\\ -3.388 1.085 .20\\ -3.388 1.10 .17\\ -3.388 1.115 .11\\
-3.355 1 .28\\ -3.355 1.03 .33\\ -3.355 1.06 .34\\ -3.355 1.085 .29\\ -3.355 1.10 .23\\ -3.355 1.115 .13\\
-3.319 1 .52\\ -3.319 1.03 .45\\ -3.319 1.06 .39\\ -3.319 1.085 .30\\ -3.319 1.10 .20\\ -3.319 1.115 .12\\
-3.28 1 .28\\ -3.28 1.03 .33\\ -3.28 1.06 .34\\ -3.28 1.085 .29\\ -3.28 1.10 .23\\ -3.28 1.115 .13\\
-3.243 1 .02\\ -3.243 1.03 .08\\ -3.243 1.06 .18\\ -3.243 1.085 .20\\ -3.243 1.10 .17\\ -3.243 1.115 .11\\
-3.205 1 .28\\ -3.205 1.03 .33\\ -3.205 1.06 .34\\ -3.205 1.085 .29\\ -3.205 1.10 .23\\ -3.205 1.115 .13\\
-3.164 1 .58\\ -3.164 1.03 .48\\ -3.164 1.06 .40\\ -3.164 1.085 .30\\ -3.164 1.10 .20\\ -3.164 1.115 .12\\
-3.12 1 .28\\ -3.12 1.03 .33\\ -3.12 1.06 .34\\ -3.12 1.085 .29\\ -3.12 1.10 .23\\ -3.12 1.115 .13\\
-3.081 1 .02\\ -3.081 1.03 .08\\ -3.081 1.06 .18\\ -3.081 1.085 .20\\ -3.081 1.10 .17\\ -3.081 1.115 .11\\
-3.045 1 .28\\ -3.045 1.03 .33\\ -3.045 1.06 .34\\ -3.045 1.085 .29\\ -3.045 1.10 .23\\ -3.045 1.115 .13\\
-3.001 1 .62\\ -3.001 1.03 .47\\ -3.001 1.06 .38\\ -3.001 1.085 .30\\ -3.001 1.10 .20\\ -3.001 1.115 .12\\
-2.955 1 .28\\ -2.955 1.03 .33\\ -2.955 1.06 .34\\ -2.955 1.085 .29\\ -2.955 1.10 .23\\ -2.955 1.115 .13\\
-2.915 1 .02\\ -2.915 1.03 .08\\ -2.915 1.06 .18\\ -2.915 1.085 .20\\ -2.915 1.10 .17\\ -2.915 1.115 .11\\
-2.875 1 .28\\ -2.875 1.03 .33\\ -2.875 1.06 .34\\ -2.875 1.085 .29\\ -2.875 1.10 .23\\ -2.875 1.115 .13\\
-2.828 1 .82\\ -2.828 1.03 .58\\ -2.828 1.06 .42\\ -2.828 1.085 .30\\ -2.828 1.10 .20\\ -2.828 1.115 .12\\
-2.78 1 .28\\ -2.78 1.03 .33\\ -2.78 1.06 .34\\ -2.78 1.085 .29\\ -2.78 1.10 .23\\ -2.78 1.115 .13\\
-2.738 1 .02\\ -2.738 1.03 .08\\ -2.738 1.06 .18\\ -2.738 1.085 .20\\ -2.738 1.10 .17\\ -2.738 1.115 .11\\
-2.695 1 .28\\ -2.695 1.03 .33\\ -2.695 1.06 .34\\ -2.695 1.085 .29\\ -2.695 1.10 .23\\ -2.695 1.115 .13\\
-2.649 1 .90\\ -2.649 1.03 .64\\ -2.649 1.06 .44\\ -2.649 1.085 .30\\ -2.649 1.10 .20\\ -2.649 1.115 .12\\
-2.60 1 .28\\ -2.60 1.03 .33\\ -2.60 1.06 .34\\ -2.60 1.085 .29\\ -2.60 1.10 .23\\ -2.60 1.115 .13\\
-2.551 1 .02\\ -2.551 1.03 .05\\ -2.551 1.06 .08\\ -2.551 1.085 .09\\ -2.551 1.10 .08\\ -2.551 1.115 .07\\
-2.5 1 .04\\ -2.5 1.03 .05\\ -2.5 1.06 .05\\ -2.5 1.085 .05\\ -2.5 1.10 .05\\ -2.5 1.115 .04\\
};
\end{axis}
\node[anchor=base west,font=\lab,inner sep=0pt] at (1pt,521.5pt) {$\times$10\expo{7}};
\node[anchor=base east,font=\lab,inner sep=0pt] at (651pt,-63pt) {$\times$10\expo{-5}};
\end{tikzpicture}
\end{document}
